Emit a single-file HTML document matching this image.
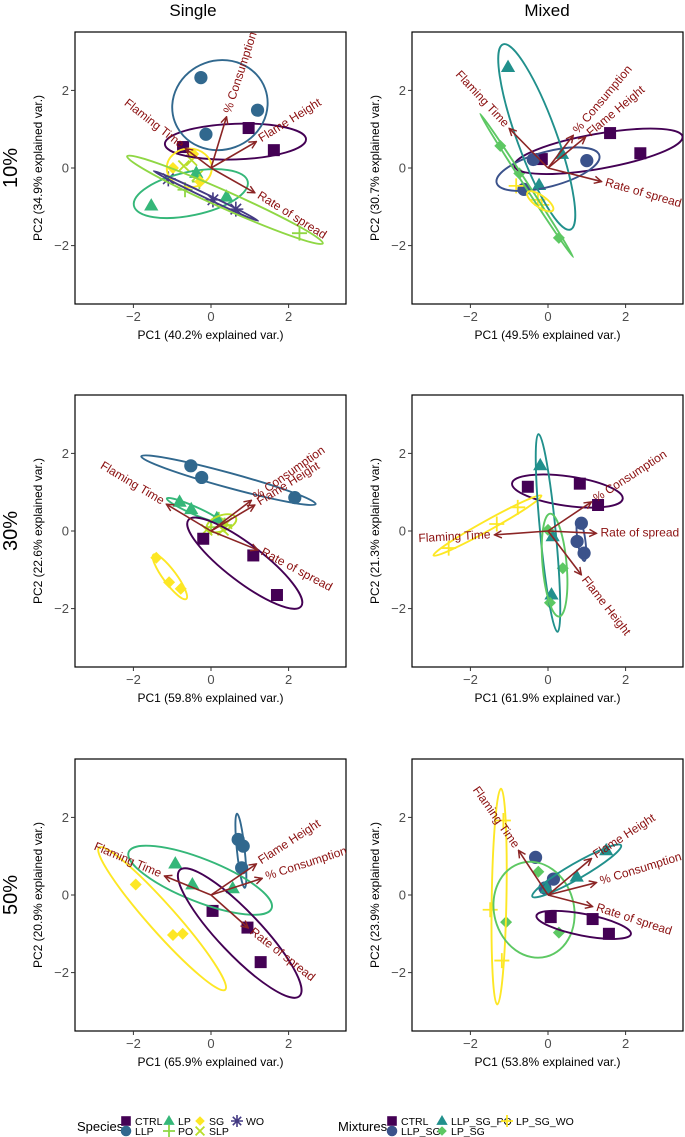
<!DOCTYPE html>
<html><head><meta charset="utf-8"><style>
html,body{margin:0;padding:0;background:#fff;}
svg{display:block;font-family:"Liberation Sans",Arial,sans-serif;}
</style></head><body>
<svg id="chart" width="685" height="1137" viewBox="0 0 685 1137" xmlns="http://www.w3.org/2000/svg">
<defs>
<marker id="ah" viewBox="0 0 10 10" refX="9" refY="5" markerWidth="9" markerHeight="9" markerUnits="userSpaceOnUse" orient="auto">
<path d="M1,1 L9,5 L1,9" fill="none" stroke="#8b2525" stroke-width="1.6"/>
</marker>
</defs>
<text x="193" y="16" font-size="17" text-anchor="middle">Single</text>
<text x="547" y="16" font-size="17" text-anchor="middle">Mixed</text>
</svg>
<script>
// ---------- data ----------
const VARS = ['Flaming Time','% Consumption','Flame Height','Rate of spread'];
const SINGLE_GROUPS = ['CTRL','LLP','LP','PO','SG','SLP','WO'];
const MIXED_GROUPS = ['CTRL','LLP_SG','LLP_SG_PO','LP_SG','LP_SG_WO'];
const ROW_LABELS = ['10%','30%','50%'];
const PC1_LABELS = ['PC1 (40.2% explained var.)','PC1 (49.5% explained var.)','PC1 (59.8% explained var.)','PC1 (61.9% explained var.)','PC1 (65.9% explained var.)','PC1 (53.8% explained var.)'];
const PC2_LABELS = ['PC2 (34.9% explained var.)','PC2 (30.7% explained var.)','PC2 (22.6% explained var.)','PC2 (21.3% explained var.)','PC2 (20.9% explained var.)','PC2 (23.9% explained var.)'];
const TICKS = [-2,0,2];

// Panel 1: Single 10%
const P1_GROUPS = ['SLP','CTRL','LLP','LP','PO','SG','WO'];
const P1_X = [[-0.5,-0.7,-0.35],[-0.72,0.97,1.62],[-0.26,1.2,-0.13],[-1.54,-0.38,0.4],[-0.67,2.28,-0.3],[-0.46,-0.98,-0.28],[-1.1,0.05,0.64]];
const P1_Y = [[0.2,0.05,-0.2],[0.54,1.03,0.46],[2.33,1.49,0.87],[-0.97,-0.13,-0.74],[-0.56,-1.68,-0.35],[0.36,0.0,-0.35],[-0.28,-0.82,-1.06]];
const P1_ELL = [['CTRL',0.63,0.68,1.82,0.46,-2],['LLP',0.23,1.62,1.24,1.15,-20],['SG',-0.56,0.0,0.58,0.5,0],['LP',-0.52,-0.66,1.5,0.56,-12],['PO',0.36,-0.82,2.76,0.22,24],['WO',-0.13,-0.72,1.49,0.05,25.5]];
const P1_AX = [-0.66,0.4,1.17,1.13];
const P1_AY = [0.5,1.32,0.68,-0.64];
const P1_ANG = [38,-72,-32,32];

// Panel 2: Mixed 10%
const P2_GROUPS = ['CTRL','LLP_SG','LLP_SG_PO','LP_SG','LP_SG_WO'];
const P2_X = [[-0.16,1.6,2.38],[-0.38,1.0,-0.62],[-1.03,0.36,-0.23],[-1.23,-0.74,0.28],[-0.82,-0.26,-0.16]];
const P2_Y = [[0.23,0.9,0.38],[0.22,0.19,-0.55],[2.6,0.36,-0.44],[0.57,-0.14,-1.8],[-0.46,-0.82,-0.95]];
const P2_ELL = [['CTRL',1.3,0.43,2.2,0.45,-10],['LLP_SG',0.0,-0.03,1.37,0.45,-15],['LLP_SG_PO',-0.29,0.8,0.51,2.54,-20],['LP_SG',-0.55,-0.45,2.2,0.05,57],['LP_SG_WO',-0.2,-0.86,0.4,0.15,35]];
const P2_AX = [-1.0,0.65,0.97,1.38];
const P2_AY = [1.02,0.84,0.8,-0.35];
const P2_ANG = [47,-50,-40,16];

// Panel 3: Single 30%
const P3_GROUPS = ['PO','SLP','LLP','LP','CTRL','SG'];
const P3_X = [[0.2,0.35,0.0],[-0.11,0.4,0.31],[-0.52,-0.24,2.16],[-0.81,-0.51,0.15],[-0.2,1.09,1.7],[-1.41,-1.08,-0.78]];
const P3_Y = [[0.3,0.15,0.1],[0.03,0.2,0.03],[1.68,1.38,0.86],[0.75,0.56,0.33],[-0.2,-0.63,-1.65],[-0.69,-1.32,-1.49]];
const P3_ELL = [['LLP',0.45,1.31,2.33,0.19,15.3],['LP',-0.45,0.54,0.75,0.1,23.6],['SLP',0.27,0.2,0.4,0.2,-20],['CTRL',0.87,-0.83,1.83,0.48,37.4],['SG',-1.06,-1.18,0.71,0.17,53.6]];
const P3_AX = [-1.15,1.04,1.13,1.21];
const P3_AY = [0.69,0.79,0.67,-0.49];
const P3_ANG = [31,-35,-32,28];

// Panel 4: Mixed 30%
const P4_GROUPS = ['CTRL','LLP_SG','LLP_SG_PO','LP_SG','LP_SG_WO'];
const P4_X = [[-0.52,0.82,1.29],[0.86,0.75,0.93],[-0.2,0.12,0.09],[0.38,0.0,0.05],[-2.56,-1.32,-0.78]];
const P4_Y = [[1.14,1.22,0.67],[0.2,-0.27,-0.57],[1.69,-0.14,-1.64],[-0.96,0.03,-1.85],[-0.44,0.18,0.61]];
const P4_ELL = [['CTRL',0.5,1.03,1.44,0.38,8],['LP_SG_WO',-1.56,0.14,1.59,0.13,-29],['LLP_SG_PO',0.0,-0.05,0.2,2.56,-5.5],['LP_SG',0.17,-0.88,0.31,1.33,-5],['LLP_SG',0.86,-0.23,0.1,0.55,-8]];
const P4_AX = [-1.38,1.12,0.86,1.25];
const P4_AY = [-0.1,0.75,-1.13,-0.06];
const P4_ANG = [-3,-33,52,0];

// Panel 5: Single 50%
const P5_GROUPS = ['LLP','LP','CTRL','SG'];
const P5_X = [[0.7,0.83,0.79],[-0.92,-0.48,0.56],[0.04,0.94,1.28],[-1.94,-0.98,-0.73]];
const P5_Y = [[1.43,1.26,0.7],[0.81,0.27,0.17],[-0.41,-0.84,-1.73],[0.27,-1.03,-1.0]];
const P5_ELL = [['LLP',0.77,1.14,0.1,0.96,-6],['LP',-0.28,0.38,1.98,0.55,21.6],['CTRL',0.74,-0.98,2.24,0.55,46.5],['SG',-1.26,-0.61,2.45,0.35,48.4]];
const P5_AX = [-1.2,1.32,1.17,0.96];
const P5_AY = [0.49,0.43,0.8,-0.85];
const P5_ANG = [23,-18,-33,38];

// Panel 6: Mixed 50%
const P6_GROUPS = ['CTRL','LLP_SG','LLP_SG_PO','LP_SG','LP_SG_WO'];
const P6_X = [[0.07,1.15,1.57],[-0.32,0.14,-0.08],[1.5,0.74,-0.03],[-0.25,-1.08,0.28],[-1.15,-1.49,-1.19]];
const P6_Y = [[-0.57,-0.62,-1.0],[0.97,0.41,0.18],[1.15,0.47,0.17],[0.6,-0.7,-0.97],[1.92,-0.38,-1.69]];
const P6_ELL = [['LP_SG_WO',-1.26,-0.04,0.19,2.78,1],['LP_SG',-0.36,-0.38,1.03,1.25,-15],['LLP_SG_PO',0.74,0.62,1.32,0.2,-30],['CTRL',0.92,-0.77,1.24,0.28,11]];
const P6_AX = [-0.76,1.25,1.12,1.15];
const P6_AY = [1.15,0.32,0.94,-0.3];
const P6_ANG = [55,-17,-33,18];

// ---------- styles ----------
const COLORS = {CTRL:'#440154',LLP:'#31688e',LP:'#35b779',PO:'#8fd744',SG:'#fde725',SLP:'#b8de29',WO:'#443a83',
  LLP_SG:'#3b528b',LLP_SG_PO:'#21908c',LP_SG:'#5dc863',LP_SG_WO:'#fde725'};
const SHAPES = {CTRL:'square',LLP:'circle',LP:'triangle',PO:'plus',SG:'diamond',SLP:'cross',WO:'star',
  LLP_SG:'circle',LLP_SG_PO:'triangle',LP_SG:'diamond',LP_SG_WO:'plus'};
const S = 38.8, BW = 271, BH = 272;
const PANELS = [
  {cx:211,cy:168,L:75,T:32,g:P1_GROUPS,x:P1_X,y:P1_Y,e:P1_ELL,ax:P1_AX,ay:P1_AY,ang:P1_ANG},
  {cx:548,cy:168,L:412,T:32,g:P2_GROUPS,x:P2_X,y:P2_Y,e:P2_ELL,ax:P2_AX,ay:P2_AY,ang:P2_ANG},
  {cx:211,cy:531,L:75,T:395,g:P3_GROUPS,x:P3_X,y:P3_Y,e:P3_ELL,ax:P3_AX,ay:P3_AY,ang:P3_ANG},
  {cx:548,cy:531,L:412,T:395,g:P4_GROUPS,x:P4_X,y:P4_Y,e:P4_ELL,ax:P4_AX,ay:P4_AY,ang:P4_ANG},
  {cx:211,cy:895,L:75,T:759,g:P5_GROUPS,x:P5_X,y:P5_Y,e:P5_ELL,ax:P5_AX,ay:P5_AY,ang:P5_ANG},
  {cx:548,cy:895,L:412,T:759,g:P6_GROUPS,x:P6_X,y:P6_Y,e:P6_ELL,ax:P6_AX,ay:P6_AY,ang:P6_ANG}
];
const NS = 'http://www.w3.org/2000/svg';
const svg = document.getElementById('chart');
function mk(tag, attrs, parent){const el=document.createElementNS(NS,tag);for(const k in attrs)el.setAttribute(k,attrs[k]);(parent||svg).appendChild(el);return el;}

function marker(shape, X, Y, col, parent, sz){
  sz = sz||1; let el;
  if(shape==='square'){el=mk('rect',{x:X-6*sz,y:Y-6*sz,width:12*sz,height:12*sz,fill:col},parent);}
  else if(shape==='circle'){el=mk('circle',{cx:X,cy:Y,r:6.6*sz,fill:col},parent);}
  else if(shape==='triangle'){const r=7.5*sz;el=mk('polygon',{points:`${X},${Y-r} ${X+r*0.95},${Y+r*0.65} ${X-r*0.95},${Y+r*0.65}`,fill:col},parent);}
  else if(shape==='diamond'){const r=6*sz;el=mk('polygon',{points:`${X},${Y-r} ${X+r},${Y} ${X},${Y+r} ${X-r},${Y}`,fill:col},parent);}
  else if(shape==='plus'){const r=7.5*sz;el=mk('path',{d:`M${X-r},${Y}H${X+r}M${X},${Y-r}V${Y+r}`,stroke:col,'stroke-width':1.8,fill:'none'},parent);}
  else if(shape==='cross'){const r=5.5*sz;el=mk('path',{d:`M${X-r},${Y-r}L${X+r},${Y+r}M${X-r},${Y+r}L${X+r},${Y-r}`,stroke:col,'stroke-width':1.8,fill:'none'},parent);}
  else {const r=7.5*sz;el=mk('path',{d:`M${X-r},${Y}H${X+r}M${X},${Y-r}V${Y+r}M${X-r*0.7},${Y-r*0.7}L${X+r*0.7},${Y+r*0.7}M${X-r*0.7},${Y+r*0.7}L${X+r*0.7},${Y-r*0.7}`,stroke:col,'stroke-width':1.6,fill:'none'},parent);}
  return el;
}

PANELS.forEach((p,pi)=>{
  const sx = v=>p.cx+v*S, sy = v=>p.cy-v*S;
  const g = mk('g',{});
  
  
  const cp = mk('clipPath',{id:'clip'+pi},g);
  mk('rect',{x:p.L,y:p.T,width:BW,height:BH},cp);
  const box = mk('rect',{x:p.L,y:p.T,width:BW,height:BH,fill:'none',stroke:'#000','stroke-width':1.2},g);
  
  
  TICKS.forEach(t=>{
    mk('line',{x1:sx(t),x2:sx(t),y1:p.T+BH,y2:p.T+BH+4,stroke:'#333','stroke-width':1},g);
    const tx = mk('text',{x:sx(t),y:p.T+BH+17,'font-size':13,fill:'#4d4d4d','text-anchor':'middle'},g);
    tx.textContent = t<0?'\u2212'+Math.abs(t):String(t);
    
    
    mk('line',{x1:p.L-4,x2:p.L,y1:sy(t),y2:sy(t),stroke:'#333','stroke-width':1},g);
    const ty = mk('text',{x:p.L-6,y:sy(t)+4.5,'font-size':13,fill:'#4d4d4d','text-anchor':'end'},g);
    ty.textContent = t<0?'\u2212'+Math.abs(t):String(t);
    
    
  });
  const xt = mk('text',{x:p.L+BW/2,y:p.T+BH+35,'font-size':12,'text-anchor':'middle'},g);
  xt.textContent = PC1_LABELS[pi];
  
  
  const ytx = p.L-33, yty = p.T+BH/2;
  const yt = mk('text',{x:ytx,y:yty,'font-size':12,'text-anchor':'middle',transform:`rotate(-90 ${ytx} ${yty})`},g);
  yt.textContent = PC2_LABELS[pi];
  
  

  const inner = mk('g',{'clip-path':`url(#clip${pi})`},g);
  p.g.forEach((grp,gi)=>{
    p.x[gi].forEach((v,k)=>{
      const m = marker(SHAPES[grp], sx(v), sy(p.y[gi][k]), COLORS[grp], inner);
      
      
    });
  });
  p.e.forEach(e=>{
    const [grp,ex,ey,a,b,ang] = e;
    const el = mk('ellipse',{cx:sx(ex),cy:sy(ey),rx:Math.max(a*S,1),ry:Math.max(b*S,1),fill:'none',stroke:COLORS[grp],'stroke-width':1.9,transform:`rotate(${ang} ${sx(ex)} ${sy(ey)})`},inner);
    
    
  });
  VARS.forEach((vn,vi)=>{
    const X2 = sx(p.ax[vi]), Y2 = sy(p.ay[vi]);
    const ar = mk('line',{x1:sx(0),y1:sy(0),x2:X2,y2:Y2,stroke:'#8b2525','stroke-width':1.6,'marker-end':'url(#ah)'},inner);
    
    
    const dx = X2-sx(0), dy = Y2-sy(0), len = Math.hypot(dx,dy)||1;
    const lx = X2+dx/len*4, ly = Y2+dy/len*4;
    const anchor = p.ax[vi]<0?'end':'start';
    const lb = mk('text',{x:lx,y:ly,'font-size':12,fill:'#8b1010','text-anchor':anchor,'dominant-baseline':'middle',transform:`rotate(${p.ang[vi]} ${lx} ${ly})`},inner);
    lb.textContent = vn;
    
    
  });
});

ROW_LABELS.forEach((r,i)=>{
  const y = [168,531,895][i];
  const t = mk('text',{x:17,y:y,'font-size':20,'text-anchor':'middle',transform:`rotate(-90 17 ${y})`});
  t.textContent = r;
  
  
});

function legend(title, tx, entries){
  const g = mk('g',{});
  
  
  const t = mk('text',{x:tx,y:1131,'font-size':13},g);
  t.textContent = title;
  entries.forEach(en=>{
    const [name,kx,row] = en;
    const ky = row?1131:1121;
    const e = mk('g',{},g);
    
    
    marker(SHAPES[name],kx,ky,COLORS[name],e,0.8);
    const lt = mk('text',{x:kx+9,y:ky+4,'font-size':10.5},e);
    lt.textContent = name;
  });
}
legend('Species',77,[['CTRL',126,0],['LLP',126,1],['LP',169,0],['PO',169,1],['SG',200,0],['SLP',200,1],['WO',237,0]]);
legend('Mixtures',338,[['CTRL',392,0],['LLP_SG',392,1],['LLP_SG_PO',442,0],['LP_SG',442,1],['LP_SG_WO',507,0]]);
</script>
</body></html>
